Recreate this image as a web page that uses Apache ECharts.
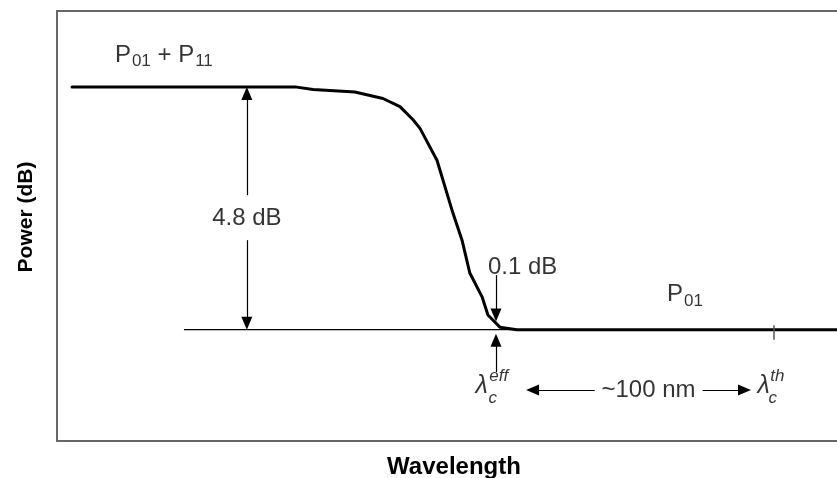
<!DOCTYPE html>
<html>
<head>
<meta charset="utf-8">
<script src="https://cdn.jsdelivr.net/npm/echarts@6/dist/echarts.min.js"></script>
<style>
  html, body { margin: 0; background: #fff; }
  #chart { width: 837px; height: 478px; }
</style>
</head>
<body>
<div id="chart"></div>
<script>
// cutoff curve: wavelength (nm from frame left), power (dB above frame bottom)
const wavelength = [5.4, 85.5, 92.0, 107.0, 117.1, 123.2, 127.9, 130.4, 136.5, 142.2, 145.5, 148.3, 152.7, 154.8, 159.1, 165.2, 284];
const power = [7.0, 7.0, 6.95, 6.90, 6.77, 6.61, 6.35, 6.18, 5.55, 4.51, 3.97, 3.32, 2.85, 2.49, 2.25, 2.2, 2.2];

const highLevel = 7.0;
const lowLevel = 2.2;
const lambdaEff = 157.7;
const lambdaTh = 257.5;
const baseStart = 45.6;
const dbArrowX = 68.2;

// arrows: [from, tip]
const arrows = [
  [[dbArrowX, 4.86], [dbArrowX, highLevel]],
  [[dbArrowX, 3.97], [dbArrowX, lowLevel]],
  [[lambdaEff, 3.28], [lambdaEff, 2.36]],
  [[lambdaEff, 1.36], [lambdaEff, 2.12]],
  [[193.2, 1.01], [168.5, 1.01]],
  [[231.9, 1.01], [249.3, 1.01]]
];

// annotation texts and where they sit (data coords)
const notes = [
  { text: '{t|P}{s|01}{t| + P}{s|11}', at: [20.8, 7.63], align: 'left' },
  { text: '{t|4.8 dB}', at: [dbArrowX, 4.41], align: 'center' },
  { text: '{t|0.1 dB}', at: [154.8, 3.44], align: 'left' },
  { text: '{t|P}{s|01}', at: [219.1, 2.89], align: 'left' },
  { text: '{t|~100 nm}', at: [212.5, 1.01], align: 'center' },
  { text: '{l|λ}', at: [150.3, 1.08], align: 'left' },
  { text: '{i|eff}', at: [155.3, 1.27], align: 'left' },
  { text: '{i|c}', at: [155.0, 0.85], align: 'left' },
  { text: '{l|λ}', at: [251.6, 1.08], align: 'left' },
  { text: '{i|th}', at: [256.2, 1.27], align: 'left' },
  { text: '{i|c}', at: [255.6, 0.85], align: 'left' }
];

// frame: 0..280.2 nm over 780 px (cut off at the right), 0..8.5 dB over 430 px
const xMax = 280.2;
const yMax = 8.5;
const pxPerNm = 780 / xMax;
const pxPerDb = 430 / yMax;
const headLen = 13;

// markLine puts the symbol centre on the end point, so pull it back by half a head
function backOff(from, tip) {
  const dx = (tip[0] - from[0]) * pxPerNm;
  const dy = (tip[1] - from[1]) * pxPerDb;
  const len = Math.hypot(dx, dy);
  const k = headLen / 2 / len;
  return [tip[0] - dx * k / pxPerNm, tip[1] - dy * k / pxPerDb];
}

const font = '"Liberation Sans", Arial, sans-serif';
const rich = {
  t: { fontSize: 24, fontFamily: font, color: '#000' },
  s: { fontSize: 17, fontFamily: font, color: '#000', padding: [13, 0, 0, 1] },
  l: { fontSize: 25, fontFamily: font, color: '#000', fontStyle: 'italic' },
  i: { fontSize: 17, fontFamily: font, color: '#000', fontStyle: 'italic' }
};

const frameLine = { show: true, lineStyle: { color: '#666', width: 2 } };
const hidden = {
  axisTick: { show: false }, axisLabel: { show: false }, splitLine: { show: false }
};

const chart = echarts.init(document.getElementById('chart'));
chart.setOption({
  animation: false,
  grid: { left: 57, top: 11, right: 0, bottom: 37, containLabel: false, outerBoundsMode: 'none' },
  xAxis: [
    Object.assign({
      type: 'value', min: 0, max: xMax, position: 'bottom',
      axisLine: frameLine,
      name: 'Wavelength', nameLocation: 'middle', nameGap: 14,
      nameTextStyle: { fontSize: 24, fontWeight: 'bold', fontFamily: font, color: '#000', padding: [0, 0, 0, 14] }
    }, hidden),
    Object.assign({
      type: 'value', min: 0, max: xMax, position: 'top',
      axisLine: frameLine
    }, hidden)
  ],
  yAxis: Object.assign({
    type: 'value', min: 0, max: yMax,
    axisLine: frameLine,
    name: 'Power (dB)', nameLocation: 'middle', nameGap: 20,
    nameTextStyle: { fontSize: 21, fontWeight: 'bold', fontFamily: font, color: '#000', padding: [0, 0, 0, 18] }
  }, hidden),
  series: [
    {
      // thin reference level
      type: 'line',
      data: [[baseStart, lowLevel], [284, lowLevel]],
      symbol: 'none',
      lineStyle: { color: '#000', width: 1.3 },
      z: 2,
      markLine: {
        silent: true,
        symbol: ['none', 'triangle'],
        symbolSize: [11, headLen],
        label: { show: false },
        lineStyle: { color: '#000', width: 1.2, type: 'solid' },
        data: arrows.map(a => [{ coord: a[0] }, { coord: backOff(a[0], a[1]) }])
      }
    },
    {
      type: 'line',
      data: wavelength.map((x, i) => [x, power[i]]),
      symbol: 'none',
      smooth: false,
      lineStyle: { color: '#000', width: 3, join: 'round', cap: 'round' },
      z: 3,
      markLine: {
        silent: true,
        symbol: 'none',
        label: { show: false },
        lineStyle: { color: '#555', width: 1.5, type: 'solid' },
        data: [[{ coord: [lambdaTh, 2.0] }, { coord: [lambdaTh, 2.29] }]]
      }
    },
    {
      type: 'scatter',
      symbolSize: 0,
      silent: true,
      z: 4,
      data: notes.map(n => ({
        value: n.at,
        label: {
          show: true, position: 'inside', align: n.align, verticalAlign: 'middle',
          color: '#000', textBorderWidth: 0,
          formatter: n.text, rich: rich
        }
      }))
    }
  ]
});
</script>
</body>
</html>
